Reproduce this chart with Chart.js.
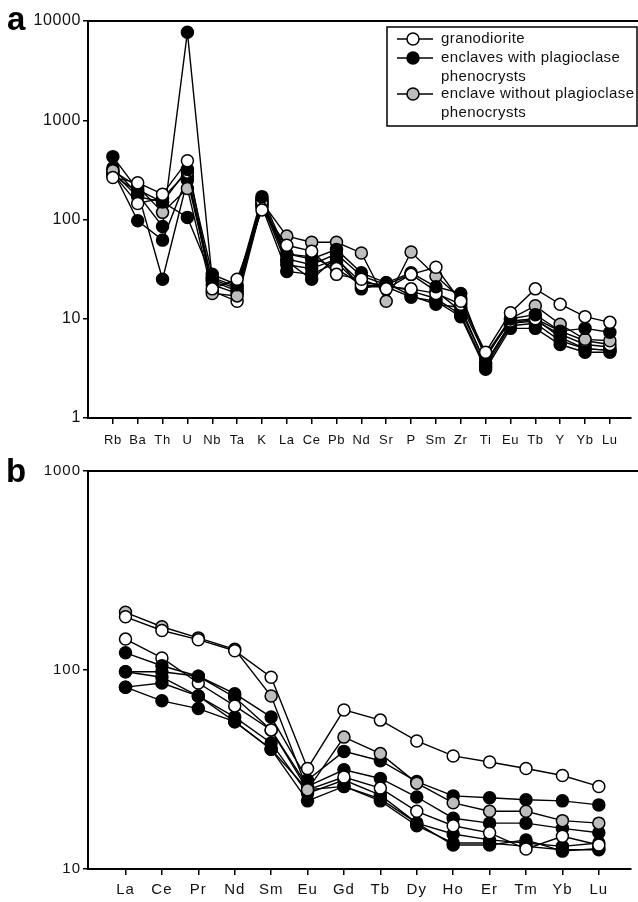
<!DOCTYPE html>
<html>
<head>
<meta charset="utf-8">
<script src="https://cdn.jsdelivr.net/npm/chart.js@4.4.0/dist/chart.umd.min.js"></script>
<style>
  html, body { margin: 0; padding: 0; background: #fff; }
  body { width: 638px; height: 902px; position: relative; overflow: hidden; }
  canvas { position: absolute; left: 0; }
  #chartA { top: 0; }
  #chartB { top: 450px; }
</style>
</head>
<body>
<canvas id="chartA" width="638" height="455"></canvas>
<canvas id="chartB" width="638" height="452"></canvas>
<script>
// Panel a: spider diagram elements
const elementsA = ['Rb','Ba','Th','U','Nb','Ta','K','La','Ce','Pb','Nd','Sr','P','Sm','Zr','Ti','Eu','Tb','Y','Yb','Lu'];
const ticksA = [1, 10, 100, 1000, 10000];

const granoA1 = [265, 235, 180, 390, 20, 25, 125, 55, 48, 28, 25, 20, 28, 33, 15, 4.6, 11.5, 20, 14, 10.5, 9.2];
const granoA2 = [290, 145, 165, 300, 19, 15, 140, 45, 42, 32, 22, 21, 20, 18, 14, 4.2, 9.5, 10, 7.5, 6, 5.5];
const grayA1  = [310, 215, 118, 205, 18, 17, 150, 68, 59, 59, 46, 15, 47, 27, 16, 4.3, 10, 13.5, 8.8, 6.2, 6];
const blackA1 = [430, 200, 150, 320, 28, 22, 170, 45, 40, 50, 29, 23, 29, 21, 18, 4.0, 10, 11, 7.5, 8, 7.3];
const blackA2 = [330, 180, 85, 7700, 25, 20, 160, 40, 35, 45, 27, 22, 28, 19, 12, 3.6, 9, 9.5, 7, 5.5, 5.2];
const blackA3 = [310, 97, 62, 270, 24, 19, 145, 35, 32, 40, 23, 22, 19, 16, 11, 3.3, 8.5, 9, 6, 5, 4.8];
const blackA4 = [280, 190, 25, 250, 22, 18, 135, 30, 28, 37, 21, 21, 16.5, 15, 10.5, 3.1, 8, 8, 5.5, 4.6, 4.6];
const blackA5 = [300, 170, 150, 105, 26, 21, 155, 38, 25, 42, 20, 23, 17, 14, 13, 3.5, 9, 10, 6.5, 5, 4.8];

// Panel b: REE diagram
const elementsB = ['La','Ce','Pr','Nd','Sm','Eu','Gd','Tb','Dy','Ho','Er','Tm','Yb','Lu'];
const ticksB = [10, 100, 1000];

const granoB1 = [185, 158, 142, 125, 92, 32, 63, 56, 44, 37, 34.5, 32, 29.5, 26];
const granoB2 = [143, 115, 86, 66, 50, 25, 29, 25.5, 19.5, 16.5, 15.2, 12.6, 14.6, 13.2];
const grayB1  = [195, 165, 145, 127, 74, 25, 46, 38, 27, 21.5, 19.5, 19.5, 17.5, 17];
const blackB1 = [122, 105, 93, 76, 58, 28, 39, 35, 27.5, 23.3, 22.8, 22.3, 22, 21];
const blackB2 = [98, 98, 93, 73, 50, 26, 31.5, 28.5, 23, 18, 17, 17, 16, 15.2];
const blackB3 = [98, 92, 74, 58, 43, 24, 28, 23.5, 17, 15, 14, 13.5, 13, 13.5];
const blackB4 = [82, 86, 74, 55, 40, 25, 26, 22.5, 17, 13.2, 13.2, 14, 12.3, 12.7];
const blackB5 = [82, 70, 64, 55, 40, 22, 26, 22, 16.5, 13.5, 13.5, 13, 12.5, 12.5];

const FILL_WHITE = '#ffffff';
const FILL_BLACK = '#000000';
const FILL_GRAY = '#bdbdbd';
const FONT = '"Liberation Sans", Arial, Helvetica, sans-serif';

// build one line dataset from a value array
function series(values, fill) {
    return {
        data: values.map((v, i) => ({ x: i + 1, y: v })),
        borderColor: '#000',
        borderWidth: 1.4,
        pointRadius: 6,
        pointHoverRadius: 6,
        pointBackgroundColor: fill,
        pointBorderColor: '#000',
        pointBorderWidth: 1.5,
        tension: 0,
        clip: false
    };
}

function drawLegend(ctx) {
    const items = [
        { lines: ['granodiorite'], fill: FILL_WHITE, y: 39 },
        { lines: ['enclaves with plagioclase', 'phenocrysts'], fill: FILL_BLACK, y: 58 },
        { lines: ['enclave without plagioclase', 'phenocrysts'], fill: FILL_GRAY, y: 94 }
    ];
    ctx.lineWidth = 1.5;
    ctx.strokeStyle = '#000';
    ctx.strokeRect(387, 27, 250, 99);
    ctx.font = '15px ' + FONT;
    ctx.letterSpacing = '0.4px';
    ctx.textBaseline = 'middle';
    ctx.textAlign = 'left';
    items.forEach(item => {
        ctx.lineWidth = 1.5;
        ctx.beginPath();
        ctx.moveTo(397, item.y);
        ctx.lineTo(433, item.y);
        ctx.stroke();
        ctx.beginPath();
        ctx.arc(413, item.y, 6, 0, Math.PI * 2);
        ctx.fillStyle = item.fill;
        ctx.fill();
        ctx.stroke();
        ctx.fillStyle = '#111';
        item.lines.forEach((t, k) => ctx.fillText(t, 441, item.y + k * 19));
    });
}

// frame: top border line, panel letter, legend
const framePlugin = {
    id: 'frame',
    beforeDraw(chart, args, opts) {
        chart.ctx.letterSpacing = opts.spacing || '0px';
    },
    afterDraw(chart, args, opts) {
        const { ctx, chartArea } = chart;
        ctx.save();
        ctx.strokeStyle = '#000';
        ctx.lineWidth = 2;
        ctx.beginPath();
        ctx.moveTo(chartArea.left, chartArea.top);
        ctx.lineTo(chart.width, chartArea.top);
        ctx.stroke();
        ctx.letterSpacing = '0px';
        ctx.fillStyle = '#000';
        ctx.font = 'bold 33px ' + FONT;
        ctx.textBaseline = 'alphabetic';
        ctx.fillText(opts.letter, opts.letterX, opts.letterY);
        if (opts.legend) drawLegend(ctx);
        ctx.restore();
    }
};

function makeChart(id, cfg) {
    const labels = cfg.labels;
    return new Chart(document.getElementById(id), {
        type: 'line',
        data: { datasets: cfg.datasets },
        options: {
            responsive: false,
            animation: false,
            events: [],
            layout: { padding: { top: cfg.top, left: 0, right: 0, bottom: 0 } },
            plugins: {
                legend: { display: false },
                tooltip: { enabled: false },
                frame: cfg.frame
            },
            scales: {
                x: {
                    type: 'linear',
                    min: cfg.xmin,
                    max: cfg.xmax,
                    afterBuildTicks: s => { s.ticks = labels.map((_, i) => ({ value: i + 1 })); },
                    afterFit: s => { s.height = cfg.xHeight; },
                    border: { display: true, color: '#000', width: 2 },
                    grid: { display: true, drawOnChartArea: false, drawTicks: true, tickLength: 6, color: '#000', lineWidth: 1.5 },
                    ticks: {
                        autoSkip: false,
                        maxRotation: 0,
                        padding: cfg.xPad,
                        color: '#111',
                        font: { family: FONT, size: cfg.xFont },
                        callback: v => labels[v - 1] || ''
                    }
                },
                y: {
                    type: 'logarithmic',
                    min: cfg.ticks[0],
                    max: cfg.ticks[cfg.ticks.length - 1],
                    afterBuildTicks: s => { s.ticks = cfg.ticks.map(v => ({ value: v, major: true })); },
                    afterFit: s => { s.width = 88; },
                    border: { display: true, color: '#000', width: 2 },
                    grid: { display: true, drawOnChartArea: false, drawTicks: true, tickLength: 5, color: '#000', lineWidth: 1.5 },
                    ticks: {
                        padding: 2,
                        color: '#111',
                        font: { family: FONT, size: cfg.yFont },
                        callback: v => String(v)
                    }
                }
            }
        },
        plugins: [framePlugin]
    });
}

makeChart('chartA', {
    labels: elementsA,
    ticks: ticksA,
    xmin: 0,
    xmax: 21.83,
    top: 21,
    xHeight: 37,
    xPad: 9,
    xFont: 13,
    yFont: 16,
    frame: { letter: 'a', letterX: 7, letterY: 30, legend: true, spacing: '0.6px' },
    datasets: [
        series(granoA1, FILL_WHITE),
        series(blackA1, FILL_BLACK),
        series(grayA1, FILL_GRAY),
        series(granoA2, FILL_WHITE),
        series(blackA2, FILL_BLACK),
        series(blackA3, FILL_BLACK),
        series(blackA4, FILL_BLACK),
        series(blackA5, FILL_BLACK)
    ]
});

makeChart('chartB', {
    labels: elementsB,
    ticks: ticksB,
    xmin: -0.03,
    xmax: 14.87,
    top: 21,
    xHeight: 33,
    xPad: 6,
    xFont: 15,
    yFont: 15,
    frame: { letter: 'b', letterX: 6, letterY: 32, legend: false, spacing: '1px' },
    datasets: [
        series(granoB1, FILL_WHITE),
        series(grayB1, FILL_GRAY),
        series(blackB1, FILL_BLACK),
        series(granoB2, FILL_WHITE),
        series(blackB2, FILL_BLACK),
        series(blackB3, FILL_BLACK),
        series(blackB4, FILL_BLACK),
        series(blackB5, FILL_BLACK)
    ]
});
</script>
</body>
</html>
